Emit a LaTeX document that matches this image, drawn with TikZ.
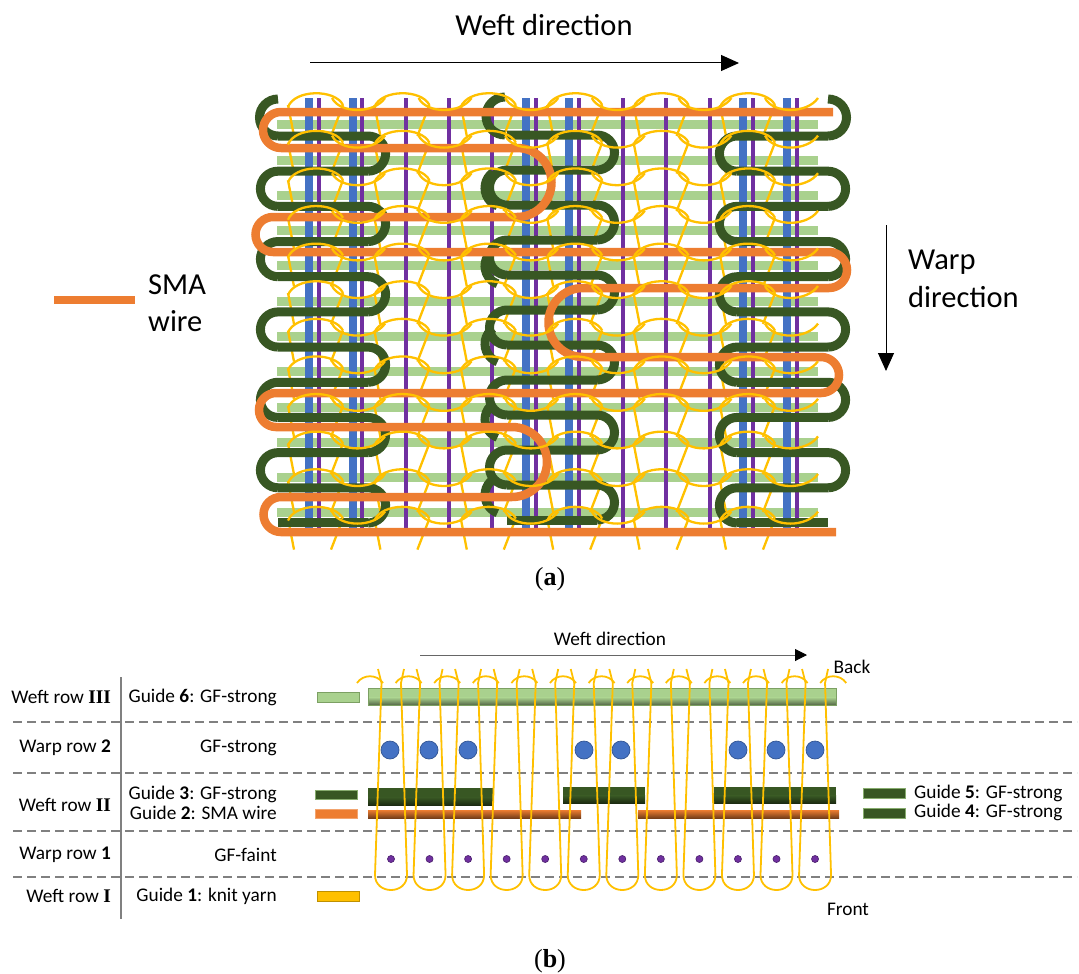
\documentclass[tikz,border=0pt]{standalone}
\usepackage{fontspec}
\usepackage{xcolor}
\usepackage{tikz}
\usetikzlibrary{arrows.meta}
\setmainfont{Carlito}
\newfontfamily\numeralfont{Liberation Serif}
\definecolor{weftgreen}{RGB}{169,209,142}
\definecolor{guidegreen}{RGB}{56,87,35}
\definecolor{warpblue}{RGB}{68,114,196}
\definecolor{warppurple}{RGB}{112,48,160}
\definecolor{smaorange}{RGB}{237,125,49}
\definecolor{knityellow}{RGB}{255,192,0}
\definecolor{rulegray}{RGB}{128,128,128}
% one guide bar running back and forth: start x, other x, first row y, row pitch
\newcommand{\guiderun}[4]{%
  \pgfmathsetmacro\firstdir{sign(#1-#2)}
  \pgfmathsetmacro\halfpitch{#4/2}
  \foreach \k in {0,...,10} {
    \pgfmathsetmacro\rowy{#3+\k*#4}
    \pgfmathsetmacro\xfrom{isodd(\k)*#2+(1-isodd(\k))*#1}
    \pgfmathsetmacro\xto{isodd(\k)*#1+(1-isodd(\k))*#2}
    \pgfmathsetmacro\endang{90+180*\firstdir*(1-2*isodd(\k))}
    \draw[guideline] (\xfrom,\rowy) -- (\xto,\rowy) arc[start angle=90,end angle=\endang,radius=\halfpitch pt];
  }
  \pgfmathsetmacro\rowy{#3+11*#4}
  \draw[guideline] (#2,\rowy) -- (#1,\rowy);
}
% a guide bar seen in section: solid above, darkening below
\newcommand{\sectionbar}[5]{%
  \fill[#5] (#1,#2) rectangle (#3,{#2+0.55*(#4-#2)});
  \shade[top color=#5,bottom color=#5!50!black] (#1,{#2+0.55*(#4-#2)}) rectangle (#3,#4);
}
\newcommand{\bigtext}{\fontsize{30.5}{33}\selectfont}
\newcommand{\smalltext}{\fontsize{19.3}{21}\selectfont}
\newcommand{\rownum}[1]{\textbf{\numeralfont #1}}

\begin{document}
\begin{tikzpicture}[x=1pt,y=-1pt,
  guideline/.style={guidegreen,line width=9pt},
  smaline/.style={smaorange,line width=8.5pt},
  knitline/.style={knityellow,line width=2.3pt},
  loopline/.style={knityellow,line width=1.8pt},
  dashrule/.style={rulegray,line width=1.2pt,dash pattern=on 9pt off 5pt},
  bigarrow/.style={-{Triangle[length=18pt,width=16pt]},line width=1pt},
  rowlabel/.style={anchor=east,font=\smalltext,inner sep=0pt},
  guidelabel/.style={anchor=west,font=\smalltext,inner sep=0pt},
  biglabel/.style={anchor=west,font=\bigtext,inner sep=0pt},
  caption/.style={font=\fontsize{26}{28}\selectfont\numeralfont,inner sep=0pt},
  swatch/.style={line width=1pt},
]
\useasboundingbox (0,0) rectangle (1079,974);

%%% Part (a)
% Weft bars
\foreach \y in {124,160,195,230,265,301,336,371,407,442,477,512}
  \fill[weftgreen] (277,\y-4.5) rectangle (818,\y+4.5);
% Warp yarns
\foreach \x in {309,353,526,569,743,787}
  \fill[warpblue] (\x-4,98) rectangle (\x+4,528);
\foreach \x in {319,362,406,449,492,536,579,623,666,710,753,797}
  \fill[warppurple] (\x-2.2,98) rectangle (\x+2.2,528);
% Knit legs
\foreach \row in {0,...,11} {
  \pgfmathsetmacro\y{93+37.6*\row}
  \foreach \col in {0,...,5} {
    \pgfmathsetmacro\c{315+86.4*\col}
    \draw[knitline] ({\c-27},{\y+12}) -- ({\c-21},{\y+43});
    \draw[knitline] ({\c+28},{\y+12}) -- ({\c+16},{\y+43});
  }
}
% Guide bars
\draw[guideline] (278,99) arc[start angle=90,end angle=270,radius=18.5pt];
\guiderun{278}{368}{136}{35.18}
\draw[guideline] (505,97) arc[start angle=90,end angle=270,radius=19pt];
\guiderun{507}{597}{135}{35}
\foreach \yc in {188,266,344,419.5,495}
  \draw[guideline] (493.1,\yc-15.6) arc[start angle=125,end angle=250,radius=19pt];
\draw[guideline] (828,99) arc[start angle=90,end angle=-90,radius=18.5pt];
\guiderun{828}{737}{136}{35.18}
% SMA wire
\draw[smaline] (833,112) -- (281,112) arc[start angle=90,end angle=270,radius=18pt]
  -- (517,148) arc[start angle=90,end angle=-90,radius=34.5pt]
  -- (273,217) arc[start angle=90,end angle=270,radius=17.5pt]
  -- (829,252) arc[start angle=90,end angle=-90,radius=18pt]
  -- (583,288) arc[start angle=90,end angle=270,radius=34.5pt]
  -- (821,357) arc[start angle=90,end angle=-90,radius=18pt]
  -- (276,393) arc[start angle=90,end angle=270,radius=17pt]
  -- (512,427) arc[start angle=90,end angle=-90,radius=35pt]
  -- (281,497) arc[start angle=90,end angle=270,radius=17.5pt]
  -- (836,532);
% Knit heads and sinkers
\foreach \row in {0,...,11} {
  \pgfmathsetmacro\y{93+37.6*\row}
  \foreach \col in {0,...,5} {
    \pgfmathsetmacro\c{315+86.4*\col}
    \pgfmathsetmacro\d{357+86.6*\col}
    \draw[knitline] ({\c-27},{\y+14}) .. controls ({\c-20},{\y-4}) and ({\c+20},{\y-4}) .. ({\c+28},{\y+12});
    \draw[knitline] ({\d-25},{\y+5}) .. controls ({\d-17},{\y+21}) and ({\d+17},{\y+21}) .. ({\d+28},{\y+5});
  }
}
% Directions and labels
\node[font=\bigtext,inner sep=0pt] (weftlabel) at (544,25) {Weft direction};
\coordinate (weftstart) at (310,63);
\coordinate (weftend) at (739,63);
\draw[bigarrow] (weftstart) -- (weftend);
\coordinate (warpstart) at (886,225);
\coordinate (warpend) at (886,371);
\draw[bigarrow] (warpstart) -- (warpend);
\node[biglabel] (warplabela) at (908,262) {Warp};
\node[biglabel] (warplabelb) at (908,297) {direction};
\coordinate (keystart) at (54,300);
\coordinate (keyend) at (135,300);
\draw[smaline] (keystart) -- (keyend);
\node[biglabel] (smalabela) at (148,285) {SMA};
\node[biglabel] (smalabelb) at (148,321) {wire};
\node[caption] (capa) at (550,579) {(\textbf{a})};

%%% Part (b)
% Row rules
\foreach \y in {722,773,831,877}
  \draw[dashrule] (13,\y) -- (1077,\y);
\draw[rulegray,line width=1.2pt] (121,677) -- (121,919);
% Row labels
\node[rowlabel] (rowa) at (111,697) {Weft row \rownum{III}};
\node[rowlabel] (rowb) at (111,748) {Warp row \textbf{2}};
\node[rowlabel] (rowc) at (111,805) {Weft row \rownum{II}};
\node[rowlabel] (rowd) at (111,855) {Warp row \textbf{1}};
\node[rowlabel] (rowe) at (111,896) {Weft row \rownum{I}};
\node[rowlabel] (guidesix) at (277,697) {Guide \textbf{6}: GF-strong};
\node[rowlabel] (warptwo) at (277,748) {GF-strong};
\node[rowlabel] (guidethree) at (277,794) {Guide \textbf{3}: GF-strong};
\node[rowlabel] (guidetwo) at (277,813) {Guide \textbf{2}: SMA wire};
\node[rowlabel] (warpone) at (277,855) {GF-faint};
\node[rowlabel] (guideone) at (277,896) {Guide \textbf{1}: knit yarn};
\node[guidelabel] (guidefive) at (914,793) {Guide \textbf{5}: GF-strong};
\node[guidelabel] (guidefour) at (914,812) {Guide \textbf{4}: GF-strong};
% Swatches
\draw[swatch,draw=weftgreen!60!guidegreen,fill=weftgreen] (317,692) rectangle (359,702);
\draw[swatch,draw=weftgreen!70!guidegreen,fill=guidegreen] (315,790) rectangle (357,799);
\draw[swatch,draw=smaorange!70!white,fill=smaorange] (315,809) rectangle (357,818);
\draw[swatch,draw=knityellow!75!black,fill=knityellow] (317,891) rectangle (359,901);
\draw[swatch,draw=weftgreen!70!guidegreen,fill=guidegreen] (863,788) rectangle (905,798);
\draw[swatch,draw=weftgreen!70!guidegreen,fill=guidegreen] (863,808) rectangle (905,818);
% Guide bars in section
\sectionbar{368}{688}{836}{705}{weftgreen}
\draw[weftgreen!60!guidegreen,line width=.8pt] (368,688) rectangle (836,705);
\sectionbar{368}{788}{493}{805}{guidegreen}
\sectionbar{563}{787}{645}{803}{guidegreen}
\sectionbar{714}{787}{836}{803}{guidegreen}
\shade[top color=smaorange,bottom color=smaorange!50!black] (368,810) rectangle (581,818);
\shade[top color=smaorange,bottom color=smaorange!50!black] (638,810) rectangle (839,818);
% Warp sections
\foreach \x in {390,429,468,584,621,738,776,815}
  \draw[warpblue!75!black,fill=warpblue,line width=.7pt] (\x,750) circle (9pt);
\foreach \i in {0,...,11} {
  \pgfmathsetmacro\c{391+38.55*\i}
  \draw[warppurple!70!black,fill=warppurple,line width=.7pt] (\c,859) circle (3.5pt);
  % Knit loop
  \draw[loopline] ({\c-13},669) -- ({\c-9.5},683) -- ({\c-16},875)
    .. controls ({\c-16},895) and ({\c+16},895) .. ({\c+16},875) -- ({\c+10},683) -- ({\c+13},669);
}
\foreach \i in {0,...,12} {
  \pgfmathsetmacro\c{370+38.6*\i}
  \draw[loopline] ({\c-13},683) .. controls ({\c-7},674) and ({\c+7},674) .. ({\c+13},683);
}
% Direction and side labels
\node[font=\smalltext,inner sep=0pt] (weftsmall) at (610,639) {Weft direction};
\coordinate (smallstart) at (420,655);
\coordinate (smallend) at (807,655);
\draw[-{Triangle[length=12pt,width=12pt,color=black]},line width=1pt,draw=rulegray!80!black] (smallstart) -- (smallend);
\node[font=\smalltext,inner sep=0pt] (backlabel) at (852,667) {Back};
\node[font=\smalltext,inner sep=0pt] (frontlabel) at (848,909) {Front};
\node[caption] (capb) at (550,961) {(\textbf{b})};
\end{tikzpicture}
\end{document}
